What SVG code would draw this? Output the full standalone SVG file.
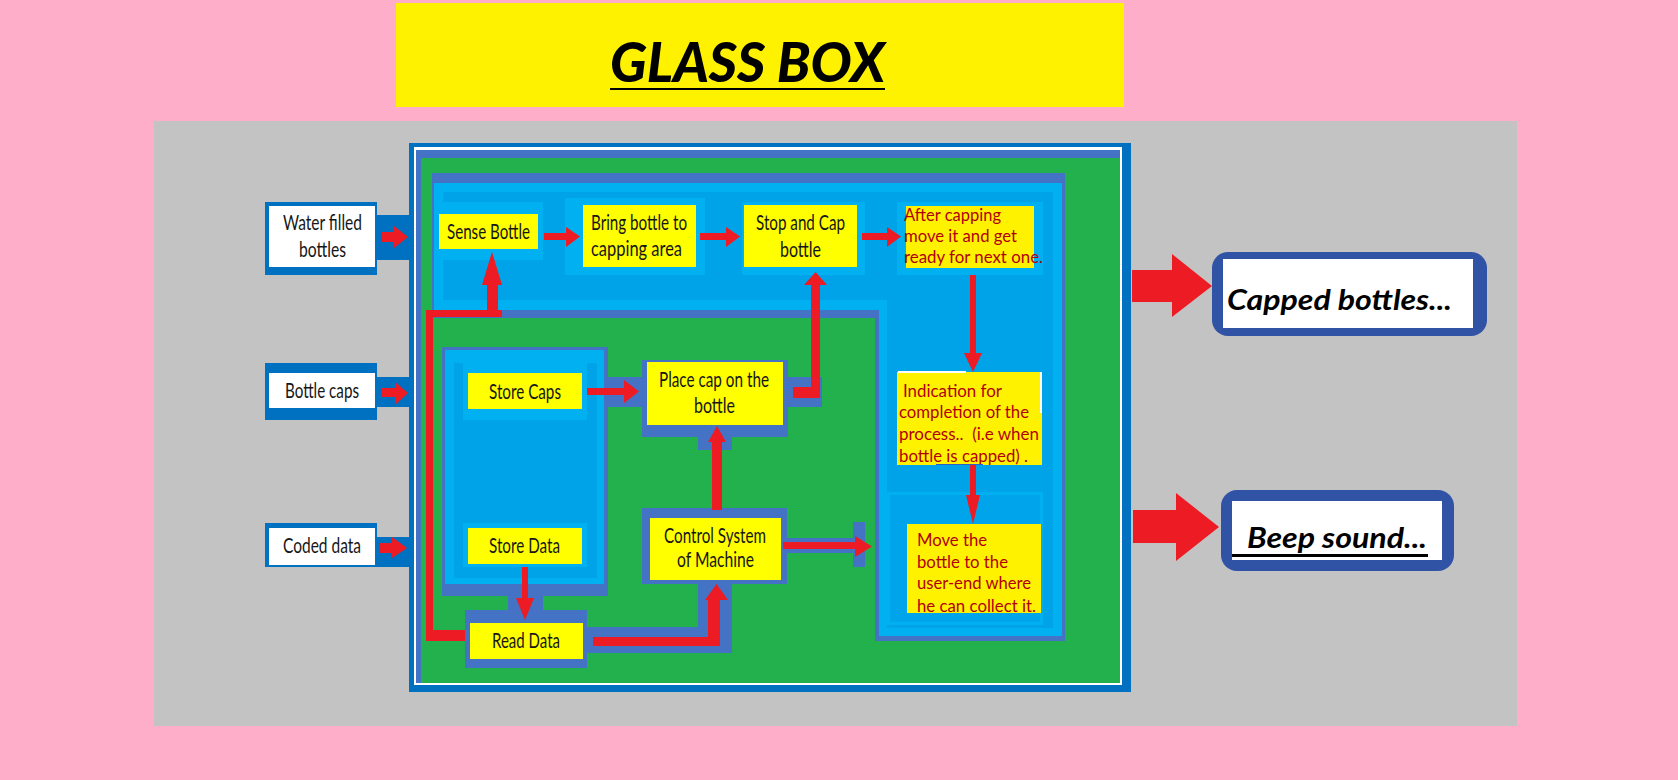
<svg xmlns="http://www.w3.org/2000/svg" width="1678" height="780" viewBox="0 0 1678 780">
  <style>
    .lbl { font-family: Lato, "Liberation Sans", sans-serif; font-size: 20.5px; fill: #161616; }
    .note { font-family: Lato, "Liberation Sans", sans-serif; font-size: 18px; fill: #B0000C; }
    .out { font-family: Lato, "Liberation Sans", sans-serif; font-size: 28px; font-weight: bold; font-style: italic; fill: #000; }
    .ybox { fill: #FFFF00; }
    .ybox2 { fill: #FFF200; }
    .halo { fill: #00B0F0; }
    .band { fill: #4472C4; }
    .inbox { fill: #0070C0; }
    .arr { fill: #ED1C24; }
    .obox { fill: #3153A6; }
  </style>

  <!-- backdrop -->
  <rect x="0" y="0" width="1678" height="780" fill="#FFAEC9"/>
  <rect x="154" y="121" width="1363" height="605" fill="#C3C3C3"/>

  <!-- title -->
  <g id="title">
    <rect x="396" y="3" width="728" height="104" fill="#FFF200"/>
    <text x="610" y="82" textLength="275" lengthAdjust="spacingAndGlyphs" style="font-family: Lato, 'Liberation Sans', sans-serif; font-size: 56px; font-weight: 900; font-style: italic; fill: #000;">GLASS BOX</text>
    <rect x="610" y="88" width="275" height="2" fill="#000"/>
  </g>

  <!-- glass box frame -->
  <g id="glass-box">
    <rect x="409" y="143" width="722" height="549" fill="#0070C0"/>
    <rect x="414" y="147" width="708" height="538" fill="#FFFFFF"/>
    <rect x="416" y="150" width="704" height="533" fill="#4472C4"/>
    <rect x="421" y="158" width="699" height="525" fill="#22B14C"/>

    <!-- conveyor area (top band + right column) -->
    <polygon class="band" points="432,173 1065,173 1065,641 875,641 875,318 432,318"/>
    <polygon class="halo" points="434,183 1062,183 1062,636 879,636 879,310 434,310"/>
    <polygon fill="#00A2E8" points="443,192 1053,192 1053,628 887,628 887,300 443,300"/>

    <!-- storage area -->
    <rect class="band" x="442" y="347" width="166" height="249"/>
    <rect class="halo" x="445" y="350" width="159" height="234"/>
    <rect fill="#00A2E8" x="454" y="363" width="143" height="215"/>

    <!-- delivery sub-panel -->
    <rect x="888.5" y="493.5" width="153" height="130" fill="#00A4EA" stroke="#00B0F0" stroke-width="3"/>

    <!-- bands behind the lower connectors -->
    <rect class="band" x="605" y="377" width="40" height="30"/>
    <rect class="band" x="786" y="377" width="36" height="30"/>
    <rect class="band" x="698" y="437" width="34" height="13"/>
    <rect class="band" x="587" y="627" width="145" height="26"/>
    <rect class="band" x="698" y="584" width="34" height="69"/>
    <rect class="band" x="787" y="538" width="68" height="15"/>
    <rect class="band" x="853" y="522" width="12" height="45"/>
    <rect class="band" x="508" y="596" width="35" height="16"/>
  </g>

  <!-- inputs -->
  <g id="in-water">
    <rect class="inbox" x="265" y="202" width="112" height="73"/>
    <rect fill="#FFFFFF" x="269" y="206" width="106" height="61"/>
    <text class="lbl" x="283" y="230" textLength="79" lengthAdjust="spacingAndGlyphs">Water filled</text>
    <text class="lbl" x="299" y="257" textLength="47" lengthAdjust="spacingAndGlyphs">bottles</text>
  </g>
  <g id="in-caps">
    <rect class="inbox" x="265" y="363" width="112" height="57"/>
    <rect fill="#FFFFFF" x="269" y="373" width="106" height="35"/>
    <text class="lbl" x="285" y="398" textLength="74" lengthAdjust="spacingAndGlyphs">Bottle caps</text>
  </g>
  <g id="in-coded">
    <rect class="inbox" x="265" y="523" width="112" height="44"/>
    <rect fill="#FFFFFF" x="269" y="528" width="106" height="37"/>
    <text class="lbl" x="283" y="553" textLength="78" lengthAdjust="spacingAndGlyphs">Coded data</text>
  </g>

  <!-- process steps -->
  <g id="sense-bottle">
    <rect class="halo" x="435" y="202" width="108" height="58"/>
    <rect class="ybox" x="439" y="214" width="99" height="35"/>
    <text class="lbl" x="447" y="239" textLength="83" lengthAdjust="spacingAndGlyphs">Sense Bottle</text>
  </g>
  <g id="bring-bottle">
    <rect class="halo" x="565" y="198" width="140" height="77"/>
    <rect class="ybox" x="583" y="205" width="113" height="62"/>
    <text class="lbl" x="591" y="230" textLength="96" lengthAdjust="spacingAndGlyphs">Bring bottle to</text>
    <text class="lbl" x="591" y="256" textLength="91" lengthAdjust="spacingAndGlyphs">capping area</text>
  </g>
  <g id="stop-cap">
    <rect class="halo" x="742" y="202" width="123" height="73"/>
    <rect class="ybox" x="744" y="205" width="113" height="62"/>
    <text class="lbl" x="756" y="230" textLength="89" lengthAdjust="spacingAndGlyphs">Stop and Cap</text>
    <text class="lbl" x="780" y="257" textLength="41" lengthAdjust="spacingAndGlyphs">bottle</text>
  </g>
  <g id="after-capping">
    <rect class="halo" x="897" y="202" width="146" height="73"/>
    <rect class="ybox2" x="906" y="206" width="128" height="62"/>
    <text class="note" x="904" y="221" textLength="97" lengthAdjust="spacingAndGlyphs">After capping</text>
    <text class="note" x="904" y="242" textLength="113" lengthAdjust="spacingAndGlyphs">move it and get</text>
    <text class="note" x="904" y="263" textLength="139" lengthAdjust="spacingAndGlyphs">ready for next one.</text>
  </g>
  <g id="indication">
    <rect class="ybox2" x="897" y="372" width="145" height="93"/>
    <rect fill="#FFFFFF" x="898" y="371" width="68" height="2"/>
    <rect fill="#FFFFFF" x="1040" y="372" width="2" height="41"/>
    <text class="note" x="903" y="397" textLength="99" lengthAdjust="spacingAndGlyphs">Indication for</text>
    <text class="note" x="899" y="418" textLength="130" lengthAdjust="spacingAndGlyphs">completion of the</text>
    <text class="note" x="899" y="440" textLength="140" lengthAdjust="spacingAndGlyphs" xml:space="preserve">process..  (i.e when</text>
    <text class="note" x="899" y="462" textLength="129" lengthAdjust="spacingAndGlyphs">bottle is capped) .</text>
    <line x1="936" y1="464.5" x2="983" y2="464.5" stroke="#2F5FC0" stroke-width="1"/>
  </g>
  <g id="move-bottle">
    <rect class="ybox2" x="907" y="524" width="134" height="89"/>
    <text class="note" x="917" y="546" textLength="70" lengthAdjust="spacingAndGlyphs">Move the</text>
    <text class="note" x="917" y="568" textLength="91" lengthAdjust="spacingAndGlyphs">bottle to the</text>
    <text class="note" x="917" y="589" textLength="114" lengthAdjust="spacingAndGlyphs">user-end where</text>
    <text class="note" x="917" y="612" textLength="119" lengthAdjust="spacingAndGlyphs">he can collect it.</text>
  </g>
  <g id="store-caps">
    <rect class="halo" x="463" y="363" width="124" height="57"/>
    <rect class="ybox" x="468" y="373" width="114" height="36"/>
    <text class="lbl" x="489" y="399" textLength="72" lengthAdjust="spacingAndGlyphs">Store Caps</text>
  </g>
  <g id="store-data">
    <rect class="halo" x="463" y="523" width="124" height="44"/>
    <rect class="ybox" x="468" y="528" width="114" height="36"/>
    <text class="lbl" x="489" y="553" textLength="71" lengthAdjust="spacingAndGlyphs">Store Data</text>
  </g>
  <g id="read-data">
    <rect class="band" x="465" y="610" width="122" height="58"/>
    <rect class="ybox" x="470" y="623" width="113" height="36"/>
    <text class="lbl" x="492" y="648" textLength="68" lengthAdjust="spacingAndGlyphs">Read Data</text>
  </g>
  <g id="place-cap">
    <rect class="band" x="642" y="360" width="146" height="77"/>
    <rect class="ybox" x="647" y="362" width="136" height="63"/>
    <text class="lbl" x="659" y="387" textLength="110" lengthAdjust="spacingAndGlyphs">Place cap on the</text>
    <text class="lbl" x="694" y="413" textLength="41" lengthAdjust="spacingAndGlyphs">bottle</text>
  </g>
  <g id="control-system">
    <rect class="band" x="642" y="508" width="145" height="76"/>
    <rect class="ybox" x="650" y="518" width="131" height="62"/>
    <text class="lbl" x="664" y="543" textLength="102" lengthAdjust="spacingAndGlyphs">Control System</text>
    <text class="lbl" x="677" y="567" textLength="77" lengthAdjust="spacingAndGlyphs">of Machine</text>
  </g>

  <!-- outputs -->
  <g id="out-capped">
    <rect class="obox" x="1212" y="252" width="275" height="84" rx="16"/>
    <rect fill="#FFFFFF" x="1223" y="259" width="250" height="69"/>
    <text class="out" x="1227" y="310" textLength="225" lengthAdjust="spacingAndGlyphs">Capped bottles...</text>
  </g>
  <g id="out-beep">
    <rect class="obox" x="1221" y="490" width="233" height="81" rx="16"/>
    <rect fill="#FFFFFF" x="1232" y="501" width="210" height="59"/>
    <text class="out" x="1247" y="548" textLength="180" lengthAdjust="spacingAndGlyphs">Beep sound...</text>
    <rect x="1232" y="554" width="196" height="3" fill="#000"/>
  </g>

  <!-- connectors -->
  <g id="connectors">
    <!-- blue sockets behind the input arrows -->
    <rect class="inbox" x="377" y="215" width="32" height="45"/>
    <rect class="inbox" x="377" y="377" width="32" height="30"/>
    <rect class="inbox" x="377" y="537" width="32" height="30"/>

    <!-- inputs into the box -->
    <path class="arr" d="M382,232 H394 V226 L408,237 L394,248 V242 H382 Z"/>
    <path class="arr" d="M382,388 H395 V382 L408,393 L395,405 V397 H382 Z"/>
    <path class="arr" d="M380,543 H392 V537 L407,548 L392,558 V553 H380 Z"/>

    <!-- top conveyor row -->
    <path class="arr" d="M544,233 H566 V227 L580,236.5 L566,247 V240 H544 Z"/>
    <path class="arr" d="M700,233 H726 V227 L740,236.5 L726,247 V240 H700 Z"/>
    <path class="arr" d="M862,233 H887 V227 L901,236.5 L887,247 V240 H862 Z"/>

    <!-- right column -->
    <path class="arr" d="M970,275 H976 V353 H982 L973,372 L964,353 H970 Z"/>
    <path class="arr" d="M970,465 H976 V495 H980 L973,524 L966,495 H970 Z"/>

    <!-- storage and control -->
    <path class="arr" d="M587,388 H624 V380 L639,391.5 L624,403 V395 H587 Z"/>
    <path class="arr" d="M793,387 H811 V285 H804 L815.5,272 L827,285 H820 V398 H793 Z"/>
    <path class="arr" d="M712,510 V442 H708 L717,426 L726,442 H722 V510 Z"/>
    <path class="arr" d="M593,637 H708 V600 H705 L716.5,584 L728,600 H720 V646 H593 Z"/>
    <path class="arr" d="M522,567 H528 V598 H534 L525,620 L516,598 H522 Z"/>
    <path class="arr" d="M783,542 H855 V536 L872,546.5 L855,557 V549 H783 Z"/>

    <!-- read data back to sensing -->
    <path class="arr" d="M465,641 H426 V310 H487 V285 H482 L492,252 L502,285 H498 V310 H502 V317 H433 V630 H465 Z"/>

    <!-- outputs -->
    <path class="arr" d="M1132,270 H1172 V254 L1212,286 L1172,317 V302 H1132 Z"/>
    <path class="arr" d="M1133,510 H1176 V493 L1219,527 L1176,561 V543 H1133 Z"/>
  </g>
</svg>
